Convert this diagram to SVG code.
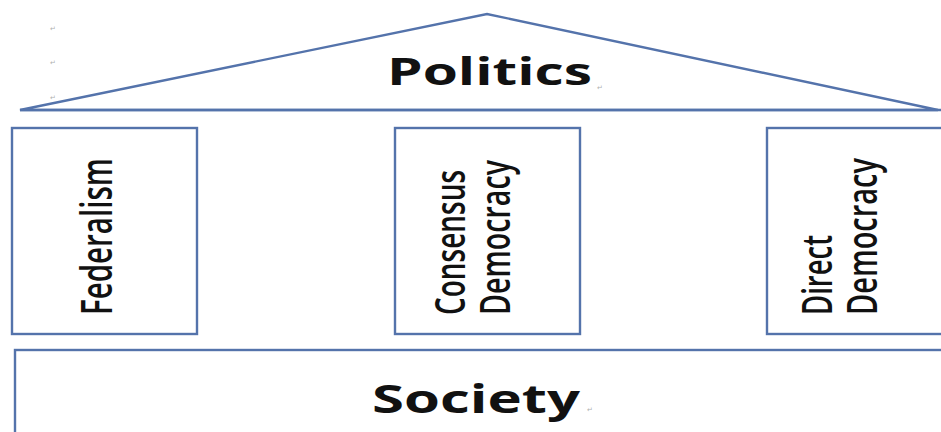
<svg xmlns="http://www.w3.org/2000/svg" width="941" height="432" viewBox="0 0 941 432">
<style>
.shape{fill:#ffffff;stroke:#5473ab;stroke-width:2.4}
.title{font-family:"Open Sans","DejaVu Sans",sans-serif;font-weight:bold;fill:#111}
.vert{font-family:"Open Sans","Liberation Sans",sans-serif;font-weight:600;fill:#111}
.mark{font-family:"DejaVu Sans",sans-serif;font-size:7px;fill:#b0b0b0}
</style>
<rect width="941" height="432" fill="#ffffff"/>
<g id="roof">
<polygon class="shape" points="20,110 487,14 938,110"/>
<line class="shape" x1="20" y1="110" x2="941" y2="110"/>
<text class="title" x="387" y="85" font-size="38" textLength="205" lengthAdjust="spacingAndGlyphs">Politics</text>
<text class="mark" x="597" y="90">↵</text>
</g>
<g id="federalism">
<rect class="shape" x="12" y="128" width="185" height="206"/>
<text class="vert" transform="translate(112,315) rotate(-90)" font-size="44" textLength="157" lengthAdjust="spacingAndGlyphs">Federalism</text>
</g>
<g id="consensus">
<rect class="shape" x="395" y="128" width="185" height="206"/>
<text class="vert" transform="translate(465,315) rotate(-90)" font-size="42" textLength="145" lengthAdjust="spacingAndGlyphs">Consensus</text>
<text class="vert" transform="translate(510,315) rotate(-90)" font-size="42" textLength="155" lengthAdjust="spacingAndGlyphs">Democracy</text>
</g>
<g id="direct">
<rect class="shape" x="767" y="128" width="185" height="206"/>
<text class="vert" transform="translate(832,315) rotate(-90)" font-size="42" textLength="80" lengthAdjust="spacingAndGlyphs">Direct</text>
<text class="vert" transform="translate(877,315) rotate(-90)" font-size="42" textLength="157" lengthAdjust="spacingAndGlyphs">Democracy</text>
</g>
<g id="society">
<rect class="shape" x="15" y="350" width="940" height="100"/>
<text class="title" x="372" y="413" font-size="39" textLength="208" lengthAdjust="spacingAndGlyphs">Society</text>
<text class="mark" x="587" y="412">↵</text>
</g>
<g id="marks">
<text class="mark" x="50" y="31">↵</text>
<text class="mark" x="50" y="65">↵</text>
<text class="mark" x="50" y="100">↵</text>
</g>
<g id="connectors"></g>
</svg>
